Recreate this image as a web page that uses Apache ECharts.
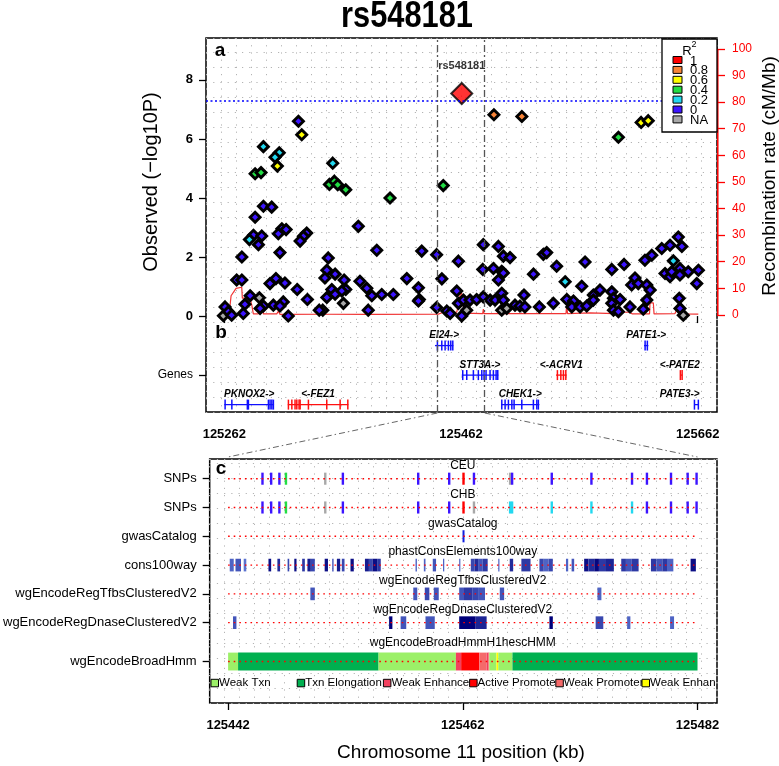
<!DOCTYPE html>
<html><head><meta charset="utf-8">
<script src="https://cdn.jsdelivr.net/npm/echarts@6/dist/echarts.min.js"></script>
<style>html,body{margin:0;padding:0;background:#fff}#c{width:779px;height:766px}</style>
</head><body><div id="c"></div>
<script>
const FONT = '"Liberation Sans", Arial, Helvetica, sans-serif';

// ---------------- DATA ----------------
const titleText = 'rs548181';
const leadSnpName = 'rs548181';
const sigThreshold = 7.3;
const xTicksTop = [125262, 125462, 125662];
const xTicksBottom = [125442, 125462, 125482];
const zoomRange = [125442, 125482];
const logpTicks = [0, 2, 4, 6, 8];
const recombTicks = [0, 10, 20, 30, 40, 50, 60, 70, 80, 90, 100];

const r2Classes = ['1', '0.8', '0.6', '0.4', '0.2', '0', 'NA'];

// [position kb, -log10P]
const r2_1 = [[125462.6, 7.54]];
const r2_08 = [[125489.8, 6.82], [125513.4, 6.76]];
const r2_06 = [[125327.4, 6.14], [125306.8, 5.08], [125614.2, 6.56], [125620.2, 6.62]];
const r2_04 = [[125288.0, 4.82], [125293.0, 4.86], [125350.8, 4.46], [125355.0, 4.57], [125357.8, 4.45],
  [125364.6, 4.28], [125402.0, 4.00], [125447.0, 4.42], [125595.0, 6.06]];
const r2_02 = [[125295.0, 5.74], [125308.4, 5.53], [125304.8, 5.38], [125353.6, 5.18], [125283.2, 2.59],
  [125641.4, 1.87], [125550.0, 1.16]];
const r2_na = [[125291.6, 0.62], [125362.6, 0.43], [125261.2, 0.01], [125345.2, 0.20], [125649.8, 0.03],
  [125466.8, 0.20], [125496.4, 0.20], [125500.6, 0.26]];
const r2_0 = [[125324.6, 6.60], [125295.0, 3.72], [125302.0, 3.69], [125288.0, 3.35], [125310.6, 2.96],
  [125314.2, 2.93], [125307.6, 2.79], [125331.6, 2.81], [125328.8, 2.70], [125326.0, 2.54], [125375.2, 3.04],
  [125286.6, 2.74], [125293.6, 2.71], [125290.8, 2.42], [125309.0, 2.15], [125276.8, 2.00], [125390.8, 2.23],
  [125428.8, 2.20], [125441.4, 2.08], [125459.8, 1.86], [125349.8, 1.97], [125348.6, 1.55], [125355.6, 1.42],
  [125347.0, 1.29], [125272.4, 1.22], [125276.8, 1.22], [125305.6, 1.27], [125300.6, 1.10], [125313.2, 1.12],
  [125363.2, 1.22], [125364.6, 0.90], [125361.2, 0.85], [125376.6, 1.18], [125416.2, 1.27], [125426.0, 0.96],
  [125445.8, 1.26], [125382.4, 0.94], [125386.6, 0.69], [125395.0, 0.73], [125404.8, 0.73], [125323.6, 0.90],
  [125352.8, 0.90], [125355.6, 0.74], [125348.6, 0.63], [125283.8, 0.69], [125332.2, 0.56], [125426.8, 0.56],
  [125458.4, 0.85], [125311.8, 0.48], [125303.4, 0.37], [125309.0, 0.34], [125295.0, 0.34], [125292.2, 0.26],
  [125279.4, 0.40], [125278.0, 0.09], [125262.6, 0.31], [125265.4, 0.15], [125268.2, 0.03], [125342.2, 0.20],
  [125383.6, 0.20], [125316.0, 0.00], [125441.4, 0.29], [125450.0, 0.17], [125452.8, 0.09], [125459.8, 0.43],
  [125426.0, 0.51], [125480.8, 2.42], [125493.6, 2.36], [125497.8, 2.03], [125503.4, 1.98], [125531.6, 2.09],
  [125534.4, 2.15], [125542.8, 1.69], [125566.8, 1.83], [125589.4, 1.58], [125599.8, 1.75], [125617.4, 1.89],
  [125623.2, 2.06], [125631.6, 2.29], [125638.6, 2.40], [125645.6, 2.68], [125648.6, 2.36], [125480.4, 1.58],
  [125489.4, 1.61], [125496.4, 1.52], [125497.8, 1.46], [125493.6, 1.22], [125523.2, 1.42], [125564.0, 1.01],
  [125609.0, 1.29], [125606.2, 1.05], [125611.8, 1.10], [125619.0, 1.05], [125621.8, 0.88], [125634.4, 1.44],
  [125638.6, 1.33], [125640.0, 1.50], [125647.0, 1.61], [125647.0, 1.39], [125654.0, 1.50], [125662.6, 1.55],
  [125661.2, 1.10], [125464.0, 0.54], [125469.6, 0.54], [125475.2, 0.56], [125480.8, 0.65], [125486.6, 0.54],
  [125490.8, 0.54], [125496.4, 0.77], [125497.8, 0.54], [125507.6, 0.37], [125511.8, 0.34], [125516.0, 0.31],
  [125515.2, 0.71], [125528.2, 0.31], [125540.0, 0.43], [125551.4, 0.56], [125557.0, 0.51], [125555.6, 0.31],
  [125562.6, 0.31], [125568.2, 0.34], [125573.8, 0.71], [125573.8, 0.54], [125579.4, 0.88], [125589.4, 0.82],
  [125590.8, 0.60], [125589.4, 0.43], [125596.4, 0.56], [125590.8, 0.20], [125595.0, 0.15], [125604.8, 0.31],
  [125616.0, 0.23], [125619.0, 0.54], [125646.4, 0.60], [125647.0, 0.26], [125462.6, 0.00]];

// recombination rate (cM/Mb)
const recombPos = [125261.2, 125264.0, 125266.8, 125267.7, 125271.9, 125273.0, 125276.7, 125277.2, 125283.7,
  125285.2, 125286.5, 125290.7, 125293.6, 125295.0, 125306.3, 125307.6, 125309.1, 125342.9, 125344.3, 125345.7,
  125383.4, 125384.5, 125385.7, 125442.8, 125447.1, 125458.4, 125459.9, 125460.7, 125462.0, 125463.3, 125464.5,
  125480.3, 125480.9, 125481.4, 125497.3, 125497.8, 125498.3, 125550.7, 125551.3, 125552.0, 125571.0, 125591.6,
  125592.2, 125592.7, 125598.9, 125604.8, 125606.5, 125621.3, 125621.7, 125624.5, 125625.1, 125642.8, 125644.3,
  125647.1, 125648.8, 125662.5];
const recombRate = [0.2, 1.6, 3.5, 7.2, 10.0, 10.4, 10.4, 6.3, 6.3,
  3.7, 0.4, 0.4, 2.9, 0.4, 0.4, 1.4, 0.2, 0.3, 1.2, 0.3,
  0.2, 1.6, 0.2, 0.3, 1.0, 1.0, 0.8, 6.0, 9.4, 6.0, 0.7,
  0.5, 2.2, 0.5, 0.5, 1.6, 0.5, 0.5, 3.7, 0.5, 0.8, 0.5,
  2.9, 0.5, 1.0, 1.0, 0.4, 0.4, 4.5, 4.5, 0.4, 0.5, 2.0,
  2.0, 0.4, 0.3];

// genes
const geneNames = ['PKNOX2', 'FEZ1', 'EI24', 'STT3A', 'CHEK1', 'ACRV1', 'PATE1', 'PATE2', 'PATE3'];
const geneStart = [125262.0, 125315.6, 125440.0, 125462.6, 125495.8, 125542.3, 125616.6, 125647.1, 125658.9];
const geneEnd = [125304.0, 125366.8, 125455.5, 125493.5, 125528.2, 125551.3, 125620.3, 125649.0, 125663.1];
const geneStrand = ['+', '-', '+', '+', '+', '-', '+', '-', '+'];
const geneRow = [3, 3, 1, 2, 3, 2, 1, 2, 3];
const geneExons = [
  [125262.6, 125268.3, 125281.4, 125282.3, 125299.2, 125300.6, 125302.1, 125303.4],
  [125316.1, 125319.0, 125321.7, 125323.2, 125325.1, 125326.0, 125333.0, 125348.5, 125359.8, 125366.3],
  [125442.0, 125445.7, 125448.5, 125451.3, 125453.3, 125455.0],
  [125463.4, 125466.8, 125472.4, 125476.6, 125479.5, 125481.4, 125483.1, 125486.5, 125489.3, 125491.6, 125493.0],
  [125496.4, 125499.2, 125502.0, 125504.9, 125506.8, 125513.3, 125523.1, 125526.0, 125527.3],
  [125543.4, 125546.3, 125548.5, 125550.5],
  [125617.5, 125619.4],
  [125647.3, 125648.8],
  [125659.2, 125662.5]];

// panel c tracks
const trackNames = ['SNPs', 'SNPs', 'gwasCatalog', 'cons100way', 'wgEncodeRegTfbsClusteredV2',
  'wgEncodeRegDnaseClusteredV2', 'wgEncodeBroadHmm'];
const trackTitles = ['CEU', 'CHB', 'gwasCatalog', 'phastConsElements100way', 'wgEncodeRegTfbsClusteredV2',
  'wgEncodeRegDnaseClusteredV2', 'wgEncodeBroadHmmH1hescHMM'];
const trackSnpPos = [125444.93, 125445.67, 125446.37, 125446.93, 125450.28, 125451.78, 125458.20, 125460.84,
  125462.06, 125462.95, 125466.03, 125466.20, 125469.58, 125472.96, 125476.42, 125477.69, 125479.74, 125481.16, 125481.92];
const ceuR2 = ['0', '0', '0', '0.4', 'NA', '0', '0', '0', '1', '0', 'NA', '0', '0', '0', '0', '0', '0', '0', '0'];
const chbR2 = ['0', '0', '0', '0.4', 'NA', '0', '0', '0', '1', 'NA', '0.2', '0.2', '0.2', '0.2', '0.2', '0', '0', '0', '0'];
const gwasPos = [125462.06];
// [start, end, shade 0..1]
const consBlocks = [[125442.14, 125442.48, 0.3], [125442.63, 125443.10, 0.4], [125443.33, 125443.55, 0.2],
  [125445.44, 125445.67, 0.9], [125446.20, 125446.43, 0.7], [125447.07, 125447.21, 0.5], [125447.64, 125447.83, 0.9],
  [125448.31, 125448.54, 0.6], [125448.76, 125449.05, 0.8], [125449.05, 125449.39, 0.5], [125450.23, 125450.51, 0.9],
  [125450.87, 125450.99, 0.4], [125451.27, 125451.55, 0.8], [125451.69, 125451.92, 0.5], [125452.43, 125452.71, 0.9],
  [125453.66, 125454.0, 0.8], [125454.0, 125454.3, 0.5], [125454.3, 125454.7, 0.9], [125454.7, 125455.01, 0.6],
  [125457.97, 125458.09, 0.3], [125458.68, 125458.82, 0.3], [125459.44, 125459.72, 0.4], [125460.31, 125460.42, 0.3],
  [125461.69, 125461.77, 0.3], [125462.68, 125463.0, 0.5], [125463.0, 125463.3, 0.7], [125463.3, 125463.7, 0.4],
  [125463.7, 125464.12, 0.6], [125465.02, 125465.10, 0.3], [125466.00, 125466.29, 0.7], [125466.99, 125467.77, 0.6],
  [125468.53, 125468.9, 0.5], [125468.9, 125469.3, 0.3], [125469.3, 125469.67, 0.5], [125470.79, 125470.98, 0.3],
  [125471.27, 125471.49, 0.4], [125472.34, 125472.7, 0.9], [125472.7, 125473.2, 0.7], [125473.2, 125473.6, 0.95],
  [125473.6, 125474.2, 0.6], [125474.2, 125474.87, 0.75], [125475.5, 125475.9, 0.6], [125475.9, 125476.4, 0.4],
  [125476.4, 125476.98, 0.6], [125478.03, 125478.5, 0.6], [125478.5, 125479.0, 0.4], [125479.0, 125479.4, 0.6],
  [125479.4, 125479.94, 0.3], [125481.41, 125481.86, 0.9]];
const tfbsBlocks = [[125449.01, 125449.39, 0.4], [125457.78, 125458.12, 0.4], [125458.76, 125459.15, 0.5],
  [125459.53, 125459.95, 0.4], [125461.69, 125462.1, 0.4], [125462.1, 125462.8, 0.6], [125462.8, 125463.3, 0.5],
  [125463.3, 125463.89, 0.4], [125465.15, 125465.52, 0.4], [125473.47, 125473.81, 0.3]];
const dnaseBlocks = [[125442.42, 125442.71, 0.4], [125455.72, 125456.00, 1.0], [125456.70, 125457.18, 0.4],
  [125458.82, 125459.61, 0.4], [125461.69, 125463.10, 1.0], [125463.10, 125464.03, 0.75], [125469.38, 125469.67, 1.0],
  [125473.32, 125473.97, 0.5], [125476.00, 125476.28, 0.3], [125479.66, 125480.00, 0.3]];
const hmmStates = ['Weak Txn', 'Txn Elongation', 'Weak Enhancer', 'Active Promoter', 'Weak Promoter', 'Weak Enhancer'];
// [start, end, state index]
const hmmSegments = [[125442.00, 125442.85, 0], [125442.85, 125454.82, 1], [125454.82, 125461.41, 0],
  [125461.41, 125461.86, 2], [125461.86, 125463.41, 3], [125463.41, 125464.03, 4], [125464.03, 125464.17, 2],
  [125464.17, 125464.26, 4], [125464.26, 125464.87, 0], [125464.87, 125465.02, 5], [125465.02, 125466.23, 0],
  [125466.23, 125482.00, 1]];

// ---------------- STYLE / LAYOUT ----------------
const r2Colors = {'1': '#FF0000', '0.8': '#F88438', '0.6': '#FFFF00', '0.4': '#22DD44', '0.2': '#22D8F0', '0': '#3C14FF', 'NA': '#A8A8A8'};
const hmmColors = ['#9CF068', '#00B050', '#F2405E', '#FF0000', '#F56A6A', '#FFFF00'];
const trackRows = [1, 2, 3, 4, 5, 6, 7.35];
const G0 = {left: 206, top: 38, width: 511, height: 374};
const G1 = {left: 206, top: 459, width: 511, height: 244};
const dotGrid = {color: '#B4B4B4', type: [1.2, 6], width: 1};
function shade(t) {
  const a = [112, 142, 228], b = [0, 0, 122];
  return 'rgb(' + a.map((v, i) => Math.round(v + (b[i] - v) * t)).join(',') + ')';
}
const measureCtx = document.createElement('canvas').getContext('2d');
function textW(t, font) { measureCtx.font = font; return measureCtx.measureText(t).width; }

const chart = echarts.init(document.getElementById('c'));

function scatterSeries(name, data, cls, size, extra) {
  return Object.assign({
    name: name, type: 'scatter', xAxisIndex: 0, yAxisIndex: 0, data: data,
    symbol: 'diamond', symbolSize: size,
    itemStyle: {color: r2Colors[cls], borderColor: '#000', borderWidth: 2.9, opacity: 1},
    emphasis: {disabled: true}, z: 3
  }, extra || {});
}

function blockSeries(blocks, row, hUnits, colorFn, minW) {
  return {
    type: 'custom', xAxisIndex: 2, yAxisIndex: 3, z: 3,
    data: blocks.map(b => [b[0], b[1], trackRows[row], b[2]]),
    encode: {x: [0, 1], y: 2},
    renderItem: function (params, api) {
      const p1 = api.coord([api.value(0), api.value(2)]);
      const p2 = api.coord([api.value(1), api.value(2)]);
      const h = api.size([0, hUnits])[1];
      const w = Math.max(p2[0] - p1[0], minW);
      return {type: 'rect', shape: {x: p1[0], y: p1[1] - h / 2, width: w, height: h},
        style: {fill: colorFn(api.value(3))}};
    }
  };
}

function snpSeries(classes, row) {
  return {
    type: 'custom', xAxisIndex: 2, yAxisIndex: 3, z: 3,
    data: trackSnpPos.map((p, i) => [p, trackRows[row], r2Classes.indexOf(classes[i])]),
    renderItem: function (params, api) {
      const p = api.coord([api.value(0), api.value(1)]);
      const h = api.size([0, 0.42])[1];
      return {type: 'rect', shape: {x: p[0] - 1.2, y: p[1] - h / 2, width: 2.4, height: h},
        style: {fill: r2Colors[r2Classes[api.value(2)]]}};
    }
  };
}

const option = {
  animation: false,
  textStyle: {fontFamily: FONT},
  grid: [
    Object.assign({show: true, borderColor: '#000', borderWidth: 1.5, backgroundColor: 'transparent', containLabel: false}, G0),
    Object.assign({show: true, borderColor: '#000', borderWidth: 1.5, backgroundColor: 'transparent', containLabel: false}, G1)
  ],
  xAxis: [
    {gridIndex: 0, type: 'value', min: 125246.5, max: 125678.3, position: 'bottom',
      axisLine: {show: false}, splitLine: {show: false},
      axisTick: {customValues: xTicksTop, length: 7, lineStyle: {color: '#000', width: 1.3}},
      axisLabel: {customValues: xTicksTop, margin: 16, fontSize: 13, fontWeight: 'bold', color: '#000', formatter: v => String(v)}},
    {gridIndex: 0, type: 'value', min: 0, max: G0.width / 15, interval: 1, position: 'top',
      axisLine: {show: false}, axisTick: {show: false}, axisLabel: {show: false},
      splitLine: {show: true, lineStyle: dotGrid}},
    {gridIndex: 1, type: 'value', min: 125440.43, max: 125483.66, position: 'bottom',
      axisLine: {show: false}, splitLine: {show: false},
      axisTick: {customValues: xTicksBottom, length: 7, lineStyle: {color: '#000', width: 1.3}},
      axisLabel: {customValues: xTicksBottom, margin: 16, fontSize: 13, fontWeight: 'bold', color: '#000', formatter: v => String(v)}},
    {gridIndex: 1, type: 'value', min: 0, max: G1.width / 15, interval: 1, position: 'top',
      axisLine: {show: false}, axisTick: {show: false}, axisLabel: {show: false},
      splitLine: {show: true, lineStyle: dotGrid}}
  ],
  yAxis: [
    {gridIndex: 0, type: 'value', min: -3.25, max: 9.42, position: 'left',
      axisLine: {show: false}, splitLine: {show: false},
      axisTick: {customValues: [-2].concat(logpTicks), length: 7, lineStyle: {color: '#000', width: 1.3}},
      axisLabel: {customValues: [-2].concat(logpTicks), margin: 13,
        formatter: v => v === -2 ? '{g|Genes}' : '{n|' + v + '}',
        rich: {g: {fontSize: 12, color: '#000', fontFamily: FONT}, n: {fontSize: 13, fontWeight: 'bold', color: '#000', fontFamily: FONT}}}},
    {gridIndex: 0, type: 'value', min: -36.5, max: 104.1, position: 'right',
      axisLine: {show: false}, splitLine: {show: false},
      axisTick: {customValues: recombTicks, length: 8, lineStyle: {color: '#FF0000', width: 1.3}},
      axisLabel: {customValues: recombTicks, margin: 15, fontSize: 12, color: '#FF0000'}},
    {gridIndex: 0, type: 'value', min: 0, max: G0.height / 15, interval: 1, position: 'left',
      axisLine: {show: false}, axisTick: {show: false}, axisLabel: {show: false},
      splitLine: {show: true, lineStyle: dotGrid}},
    {gridIndex: 1, type: 'value', inverse: true, min: 0.316, max: 8.79, position: 'left',
      axisLine: {show: false}, splitLine: {show: false},
      axisTick: {customValues: trackRows, length: 7, lineStyle: {color: '#000', width: 1.3}},
      axisLabel: {customValues: trackRows, margin: 13, fontSize: 13, color: '#000',
        formatter: v => trackNames[trackRows.indexOf(v)]}},
    {gridIndex: 1, type: 'value', min: 0, max: G1.height / 15, interval: 1, position: 'left',
      axisLine: {show: false}, axisTick: {show: false}, axisLabel: {show: false},
      splitLine: {show: true, lineStyle: dotGrid}}
  ],
  series: [
    {type: 'line', xAxisIndex: 0, yAxisIndex: 1, data: recombPos.map((x, i) => [x, recombRate[i]]),
      symbol: 'none', lineStyle: {color: '#F03434', width: 1.2}, z: 2, silent: true},
    scatterSeries('NA', r2_na, 'NA', 10, {
      markLine: {silent: true, symbol: 'none', label: {show: false},
        data: [
          {yAxis: sigThreshold, lineStyle: {color: '#0000FF', type: [2, 2.5], width: 1.5}},
          {xAxis: zoomRange[0], lineStyle: {color: '#555', type: [7, 3, 2, 3], width: 1.3}},
          {xAxis: zoomRange[1], lineStyle: {color: '#555', type: [7, 3, 2, 3], width: 1.3}}
        ]}}),
    scatterSeries('0', r2_0, '0', 10),
    scatterSeries('0.2', r2_02, '0.2', 10),
    scatterSeries('0.4', r2_04, '0.4', 10),
    scatterSeries('0.6', r2_06, '0.6', 10),
    scatterSeries('0.8', r2_08, '0.8', 10),
    scatterSeries('1', r2_1, '1', 21, {
      itemStyle: {color: r2Colors['1'], borderColor: '#000', borderWidth: 2},
      label: {show: true, position: 'top', distance: 11, formatter: leadSnpName, fontSize: 11, fontWeight: 'bold', color: '#000'}}),
    {type: 'custom', xAxisIndex: 0, yAxisIndex: 0, z: 4,
      data: geneNames.map((n, i) => [geneStart[i], geneEnd[i], geneRow[i], geneStrand[i] === '+' ? 1 : -1, i]),
      encode: {x: [0, 1], y: 2},
      renderItem: function (params, api) {
        const s = api.value(0), e = api.value(1), row = api.value(2), st = api.value(3), gi = api.value(4);
        const y = -row;
        const p1 = api.coord([s, y]), p2 = api.coord([e, y]);
        const col = st > 0 ? '#1010FF' : '#FF1010';
        const children = [{type: 'line', shape: {x1: p1[0], y1: p1[1], x2: p2[0], y2: p2[1]}, style: {stroke: col, lineWidth: 1.3}}];
        geneExons[gi].forEach(x => {
          const p = api.coord([x, y]);
          children.push({type: 'rect', shape: {x: p[0] - 0.7, y: p[1] - 5, width: 1.5, height: 10}, style: {fill: col}});
        });
        const label = st > 0 ? geneNames[gi] + '->' : '<-' + geneNames[gi];
        const font = 'italic bold 10px ' + FONT;
        const w = textW(label, font);
        let cx = (p1[0] + p2[0]) / 2;
        const maxR = api.coord([xTicksTop[2], 0])[0] + 2;
        if (cx + w / 2 > maxR) cx = maxR - w / 2;
        children.push({type: 'text', style: {text: label, x: cx, y: p1[1] - 10, align: 'center', verticalAlign: 'middle', font: font, fill: '#000'}});
        return {type: 'group', children: children};
      }},
    snpSeries(ceuR2, 0),
    snpSeries(chbR2, 1),
    {type: 'custom', xAxisIndex: 2, yAxisIndex: 3, z: 3,
      data: gwasPos.map(p => [p, trackRows[2]]),
      renderItem: function (params, api) {
        const p = api.coord([api.value(0), api.value(1)]);
        const h = api.size([0, 0.42])[1];
        return {type: 'rect', shape: {x: p[0] - 1, y: p[1] - h / 2, width: 2, height: h}, style: {fill: '#1020E0'}};
      }},
    blockSeries(consBlocks, 3, 0.44, shade, 1.2),
    blockSeries(tfbsBlocks, 4, 0.44, shade, 1.2),
    blockSeries(dnaseBlocks, 5, 0.44, shade, 1.2),
    blockSeries(hmmSegments, 6, 0.62, i => hmmColors[i], 0.8),
    {type: 'custom', xAxisIndex: 2, yAxisIndex: 3, z: 5,
      data: trackTitles.map((t, i) => [zoomRange[0], zoomRange[1], trackRows[i], i]),
      encode: {x: [0, 1], y: 2},
      renderItem: function (params, api) {
        const s = api.value(0), e = api.value(1), r = api.value(2), i = api.value(3);
        const p1 = api.coord([s, r]), p2 = api.coord([e, r]), pm = api.coord([(s + e) / 2, r]);
        return {type: 'group', children: [
          {type: 'line', shape: {x1: p1[0], y1: p1[1], x2: p2[0], y2: p2[1]}, style: {stroke: '#FF0000', lineWidth: 1.4, lineDash: [1.6, 4]}},
          {type: 'text', style: {text: trackTitles[i], x: pm[0], y: pm[1] - (i === 6 ? 19 : 13), align: 'center', verticalAlign: 'middle', font: '12px ' + FONT, fill: '#000'}}
        ]};
      }}
  ]
};
chart.setOption(option);

// ---------------- ANNOTATIONS ----------------
const px = (xi, v) => chart.convertToPixel({xAxisIndex: xi}, v);
const py = (yi, v) => chart.convertToPixel({yAxisIndex: yi}, v);
const g0Bottom = G0.top + G0.height, g1Top = G1.top, gRight = G0.left + G0.width;
const graphics = [];
function txt(t, x, y, font, opts) {
  graphics.push(Object.assign({type: 'text', x: x, y: y, z: 100,
    style: {text: t, font: font, fill: '#000', align: 'center', verticalAlign: 'middle'}}, opts || {}));
}
txt(titleText, 407, 17, 'bold 36px ' + FONT, {scaleX: 0.855});
txt('Observed (\u2212log10P)', 151, 182, '20px ' + FONT, {rotation: Math.PI / 2});
txt('Recombination rate (cM/Mb)', 770, 176, '19px ' + FONT, {rotation: Math.PI / 2});
txt('Chromosome 11 position (kb)', 461, 753, '19px ' + FONT);
txt('a', 220, 51, 'bold 19px ' + FONT);
txt('b', 221, 333, 'bold 19px ' + FONT);
txt('c', 221, 469, 'bold 19px ' + FONT);

// red recombination axis line (0..100)
graphics.push({type: 'line', z: 100, shape: {x1: gRight + 0.8, y1: py(1, recombTicks[0]), x2: gRight + 0.8, y2: py(1, recombTicks[recombTicks.length - 1])},
  style: {stroke: '#FF0000', lineWidth: 1.5}});

// zoom connector lines
[0, 1].forEach(k => {
  graphics.push({type: 'line', z: 100, shape: {x1: px(0, zoomRange[k]), y1: g0Bottom + 1, x2: px(2, zoomRange[k]), y2: g1Top - 2},
    style: {stroke: '#666', lineWidth: 1, lineDash: [6, 3, 1.5, 3]}});
});

// R2 legend
graphics.push({type: 'rect', z: 100, shape: {x: 662, y: 39, width: 55, height: 93}, style: {fill: '#fff', stroke: '#000', lineWidth: 1.3}});
txt('R', 687, 51, '13px ' + FONT, {z: 101});
txt('2', 694, 45, '9px ' + FONT, {z: 101});
r2Classes.forEach((c, i) => {
  const y = 60 + i * 9.9;
  graphics.push({type: 'rect', z: 101, shape: {x: 673, y: y - 3.5, width: 9, height: 7}, style: {fill: r2Colors[c], stroke: '#000', lineWidth: 1}});
  txt(c, 690, y + 1, '13px ' + FONT, {z: 102, style: {text: c, font: '13px ' + FONT, fill: '#000', align: 'left', verticalAlign: 'middle'}});
});

// HMM legend
hmmStates.forEach((s, i) => {
  const x = 211 + i * 86.2, y = 683;
  txt(s, x + 8, y, '11.5px ' + FONT, {z: 100 + i * 2, style: {text: s, font: '11.5px ' + FONT, fill: '#000', align: 'left', verticalAlign: 'middle',
    width: gRight - (x + 8), overflow: 'truncate', ellipsis: ''}});
  graphics.push({type: 'rect', z: 101 + i * 2, shape: {x: x, y: y - 3.7, width: 7.5, height: 7.5}, style: {fill: hmmColors[i], stroke: '#000', lineWidth: 1}});
});

chart.setOption({graphic: {elements: graphics}});
</script>
</body></html>
